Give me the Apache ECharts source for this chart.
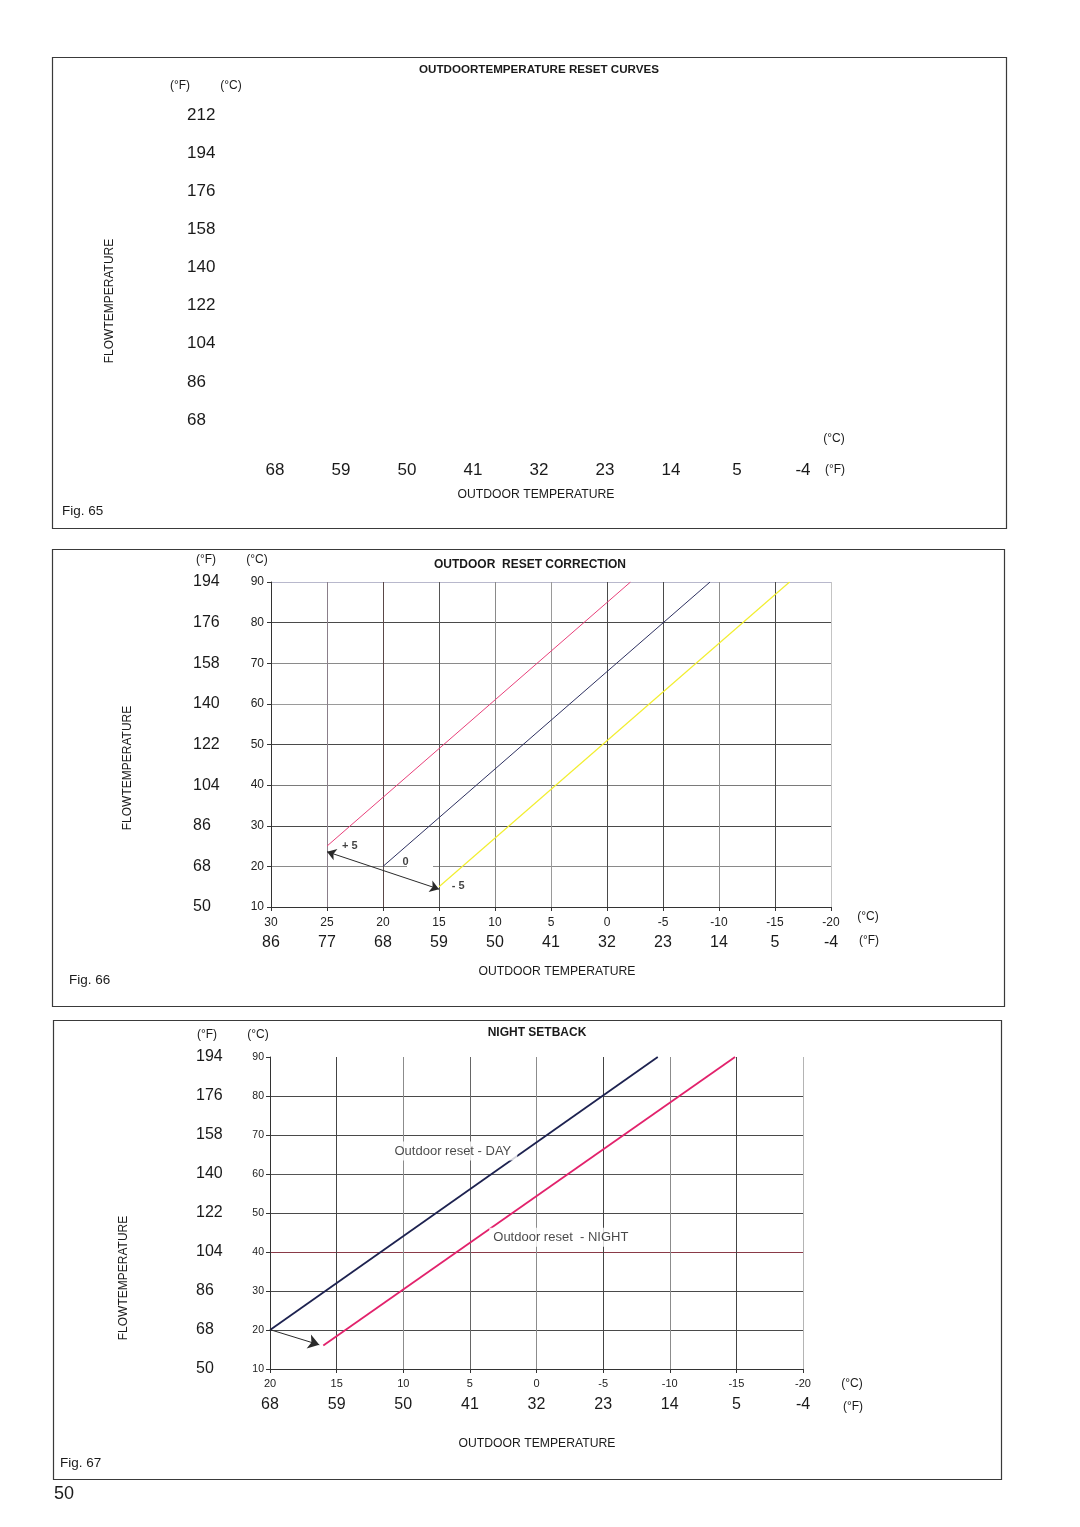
<!DOCTYPE html>
<html>
<head>
<meta charset="utf-8">
<script src="https://cdn.jsdelivr.net/npm/echarts@6/dist/echarts.min.js"></script>
<style>
html,body{margin:0;padding:0;background:#fff;}
#c{width:1080px;height:1527px;}
</style>
</head>
<body>
<div id="c"></div>
<script>
// ---------- Fig. 65 (empty chart, only scale labels) ----------
const fig65CelsiusX = [20, 15, 10, 5, 0, -5, -10, -15, -20];
const fig65FahrenheitX = [68, 59, 50, 41, 32, 23, 14, 5, -4];
const fig65CelsiusY = [20, 30, 40, 50, 60, 70, 80, 90, 100];
const fig65FahrenheitY = [68, 86, 104, 122, 140, 158, 176, 194, 212];

// ---------- Fig. 66 OUTDOOR RESET CORRECTION ----------
const fig66CelsiusX = [30, 25, 20, 15, 10, 5, 0, -5, -10, -15, -20];
const fig66FahrenheitX = [86, 77, 68, 59, 50, 41, 32, 23, 14, 5, -4];
const fig66CelsiusY = [10, 20, 30, 40, 50, 60, 70, 80, 90];
const fig66FahrenheitY = [50, 68, 86, 104, 122, 140, 158, 176, 194];
const fig66PlusFive = [[25, 25], [-2.1, 90]];
const fig66Zero = [[20, 20], [-9.2, 90]];
const fig66MinusFive = [[15, 15], [-16.3, 90]];
const fig66Arrow = [[25, 23.6], [15, 14.4]];
const fig66Notes = [[23.7, 25, '+ 5'], [18.3, 21.0, '0'], [13.9, 15.1, '- 5']];

// ---------- Fig. 67 NIGHT SETBACK ----------
const fig67CelsiusX = [20, 15, 10, 5, 0, -5, -10, -15, -20];
const fig67FahrenheitX = [68, 59, 50, 41, 32, 23, 14, 5, -4];
const fig67CelsiusY = [10, 20, 30, 40, 50, 60, 70, 80, 90];
const fig67FahrenheitY = [50, 68, 86, 104, 122, 140, 158, 176, 194];
const fig67Day = [[20, 20], [-9.1, 90]];
const fig67Night = [[16, 16], [-14.9, 90]];
const fig67Arrow = [[20, 20.1], [16.3, 16.2]];
const fig67Notes = [[6.2, 65.9, 'Outdoor reset - DAY'], [-1.9, 43.8, 'Outdoor reset  - NIGHT']];

const FONT = '"Liberation Sans", Arial, Helvetica, sans-serif';
const lookup = (cArr, fArr) => v => { const i = cArr.indexOf(v); return i < 0 ? '' : String(fArr[i]); };
const none = { show: false, onZero: false };
const noTick = { show: false };
const noSplit = { show: false };

function txt(x, y, text, size, opts) {
  opts = opts || {};
  return {
    type: 'text', x: x, y: y, rotation: opts.rotation || 0, z: 100,
    style: {
      text: text, fill: opts.color || '#1a1a1a',
      font: (opts.bold ? 'bold ' : '') + size + 'px ' + FONT,
      align: opts.align || 'center', textAlign: opts.align || 'center',
      verticalAlign: 'middle', textVerticalAlign: 'middle'
    }
  };
}
function box(x1, y1, x2, y2) {
  return { type: 'rect', z: 100, shape: { x: x1 + 0.5, y: y1 + 0.5, width: x2 - x1, height: y2 - y1 },
    style: { fill: 'none', stroke: '#3a3a3a', lineWidth: 1.2 } };
}
const axisLineOn = { show: true, onZero: false, lineStyle: { color: '#333', width: 1 } };

const chart = echarts.init(document.getElementById('c'), null, { renderer: 'canvas' });

const option = {
  animation: false,
  backgroundColor: '#ffffff',
  textStyle: { fontFamily: FONT },
  grid: [
    { left: 275, top: 115, width: 528, height: 305 },
    { left: 271, top: 582, width: 560, height: 325 },
    { left: 270, top: 1057, width: 533, height: 312 }
  ],
  xAxis: [
    // 0: fig 65
    { gridIndex: 0, type: 'value', min: -20, max: 20, interval: 5, inverse: true,
      axisLine: none, axisTick: noTick, splitLine: noSplit,
      axisLabel: { margin: 42, fontSize: 17, color: '#1a1a1a', formatter: lookup(fig65CelsiusX, fig65FahrenheitX) } },
    // 1: fig 66 celsius
    { gridIndex: 1, type: 'value', min: -20, max: 30, interval: 5, inverse: true,
      axisLine: axisLineOn,
      axisTick: { show: true, length: 4, lineStyle: { color: '#333' } },
      splitLine: { show: true, lineStyle: { width: 1, color: ['#c4c4c4', '#4a4a4a', '#8f8f8f', '#4a4a4a', '#4a4a4a', '#9a9a9a', '#8a8a8a', '#555', '#5a4848', '#8a7f8a', '#333'] } },
      axisLabel: { margin: 10, fontSize: 12, color: '#222', formatter: v => String(v) } },
    // 2: fig 66 fahrenheit
    { gridIndex: 1, type: 'value', min: -20, max: 30, interval: 5, inverse: true, position: 'bottom', offset: 21,
      axisLine: none, axisTick: noTick, splitLine: noSplit,
      axisLabel: { margin: 7, fontSize: 16, color: '#1a1a1a', formatter: lookup(fig66CelsiusX, fig66FahrenheitX) } },
    // 3: fig 67 celsius
    { gridIndex: 2, type: 'value', min: -20, max: 20, interval: 5, inverse: true,
      axisLine: axisLineOn,
      axisTick: { show: true, length: 4, lineStyle: { color: '#333' } },
      splitLine: { show: true, lineStyle: { width: 1, color: ['#b4b4b4', '#444', '#8c8c8c', '#444', '#8c8c8c', '#666', '#8c8c8c', '#444', '#333'] } },
      axisLabel: { margin: 9, fontSize: 11, color: '#222', formatter: v => String(v) } },
    // 4: fig 67 fahrenheit
    { gridIndex: 2, type: 'value', min: -20, max: 20, interval: 5, inverse: true, position: 'bottom', offset: 21,
      axisLine: none, axisTick: noTick, splitLine: noSplit,
      axisLabel: { margin: 7, fontSize: 16, color: '#1a1a1a', formatter: lookup(fig67CelsiusX, fig67FahrenheitX) } }
  ],
  yAxis: [
    // 0: fig 65
    { gridIndex: 0, type: 'value', min: 20, max: 100, interval: 10,
      axisLine: none, axisTick: noTick, splitLine: noSplit,
      axisLabel: { margin: 88, align: 'left', fontSize: 17, color: '#1a1a1a', formatter: lookup(fig65CelsiusY, fig65FahrenheitY) } },
    // 1: fig 66 celsius
    { gridIndex: 1, type: 'value', min: 10, max: 90, interval: 10,
      axisLine: axisLineOn,
      axisTick: { show: true, length: 4, lineStyle: { color: '#333' } },
      splitLine: { show: true, lineStyle: { width: 1, color: ['#333', '#8a8a8a', '#4a4a4a', '#7a7a7a', '#4a4a4a', '#9a9a9a', '#8a8a8a', '#4a4a4a', '#b8b8cc'] } },
      axisLabel: { margin: 7, fontSize: 12, color: '#222', formatter: v => String(v) } },
    // 2: fig 66 fahrenheit
    { gridIndex: 1, type: 'value', min: 10, max: 90, interval: 10, position: 'left',
      axisLine: none, axisTick: noTick, splitLine: noSplit,
      axisLabel: { margin: 78, align: 'left', fontSize: 16, color: '#1a1a1a', padding: [2, 0, 0, 0], formatter: lookup(fig66CelsiusY, fig66FahrenheitY) } },
    // 3: fig 67 celsius
    { gridIndex: 2, type: 'value', min: 10, max: 90, interval: 10,
      axisLine: axisLineOn,
      axisTick: { show: true, length: 4, lineStyle: { color: '#333' } },
      splitLine: { show: true, showMaxLine: false, lineStyle: { width: 1, color: ['#333', '#4a4a4a', '#4a4a4a', '#8a3a48', '#4a4a4a', '#555', '#4a4a4a', '#4a4a4a', '#ffffff'] } },
      axisLabel: { margin: 6, fontSize: 10.5, color: '#222', formatter: v => String(v) } },
    // 4: fig 67 fahrenheit
    { gridIndex: 2, type: 'value', min: 10, max: 90, interval: 10, position: 'left',
      axisLine: none, axisTick: noTick, splitLine: noSplit,
      axisLabel: { margin: 74, align: 'left', fontSize: 16, color: '#1a1a1a', padding: [7, 0, 0, 0], formatter: lookup(fig67CelsiusY, fig67FahrenheitY) } }
  ],
  series: [
    { type: 'line', xAxisIndex: 1, yAxisIndex: 1, data: fig66PlusFive, symbol: 'none', z: 3,
      lineStyle: { color: '#e8407a', width: 1 } },
    { type: 'line', xAxisIndex: 1, yAxisIndex: 1, data: fig66Zero, symbol: 'none', z: 3,
      lineStyle: { color: '#2d3060', width: 1 },
      markLine: { silent: true, symbol: ['arrow', 'arrow'], symbolSize: 9, label: { show: false },
        lineStyle: { color: '#2a2a2a', width: 1, type: 'solid' },
        data: [[{ coord: fig66Arrow[0] }, { coord: fig66Arrow[1] }]] } },
    { type: 'line', xAxisIndex: 1, yAxisIndex: 1, data: fig66MinusFive, symbol: 'none', z: 3,
      lineStyle: { color: '#f2ee30', width: 1.2 } },
    { type: 'scatter', xAxisIndex: 1, yAxisIndex: 1, data: fig66Notes, symbolSize: 1, z: 10, silent: true,
      itemStyle: { color: 'rgba(0,0,0,0)' },
      label: { show: true, position: 'right', distance: 0, formatter: p => p.value[2],
        fontSize: 11, fontWeight: 'bold', color: '#111' } },
    { type: 'line', xAxisIndex: 3, yAxisIndex: 3, data: fig67Day, symbol: 'none', z: 3,
      lineStyle: { color: '#1d2250', width: 1.8 } },
    { type: 'line', xAxisIndex: 3, yAxisIndex: 3, data: fig67Night, symbol: 'none', z: 3,
      lineStyle: { color: '#e2226c', width: 1.8 },
      markLine: { silent: true, symbol: ['none', 'arrow'], symbolSize: 11, label: { show: false },
        lineStyle: { color: '#2a2a2a', width: 1, type: 'solid' },
        data: [[{ coord: fig67Arrow[0] }, { coord: fig67Arrow[1] }]] } },
    { type: 'scatter', xAxisIndex: 3, yAxisIndex: 3, data: fig67Notes, symbolSize: 1, z: 10, silent: true,
      itemStyle: { color: 'rgba(0,0,0,0)' },
      label: { show: true, position: 'inside', formatter: p => p.value[2],
        fontSize: 13, color: '#1a1a1a', backgroundColor: '#ffffff', padding: [3, 6, 3, 4] } }
  ],
  graphic: [
    // frames
    box(52, 57, 1006, 528),
    box(52, 549, 1004, 1006),
    box(53, 1020, 1001, 1479),
    // fig 65 texts
    txt(539, 70, 'OUTDOORTEMPERATURE RESET CURVES', 11.6, { bold: true }),
    txt(180, 86, '(°F)', 12),
    txt(231, 86, '(°C)', 12),
    txt(110, 301, 'FLOWTEMPERATURE', 12, { rotation: Math.PI / 2 }),
    txt(834, 439, '(°C)', 12),
    txt(835, 470, '(°F)', 12),
    txt(536, 495, 'OUTDOOR TEMPERATURE', 12.2),
    txt(62, 511, 'Fig. 65', 13.5, { align: 'left' }),
    // fig 66 texts
    txt(530, 565, 'OUTDOOR  RESET CORRECTION', 12, { bold: true }),
    txt(206, 560, '(°F)', 12),
    txt(257, 560, '(°C)', 12),
    txt(128, 768, 'FLOWTEMPERATURE', 12, { rotation: Math.PI / 2 }),
    txt(868, 917, '(°C)', 12),
    txt(869, 941, '(°F)', 12),
    txt(557, 972, 'OUTDOOR TEMPERATURE', 12.2),
    txt(69, 980, 'Fig. 66', 13.5, { align: 'left' }),
    { type: 'rect', z: 50, shape: { x: 407, y: 864, width: 26, height: 4 }, style: { fill: '#ffffff' } },
    // fig 67 texts
    txt(537, 1033, 'NIGHT SETBACK', 12, { bold: true }),
    txt(207, 1035, '(°F)', 12),
    txt(258, 1035, '(°C)', 12),
    txt(124, 1278, 'FLOWTEMPERATURE', 12, { rotation: Math.PI / 2 }),
    txt(852, 1384, '(°C)', 12),
    txt(853, 1407, '(°F)', 12),
    txt(537, 1444, 'OUTDOOR TEMPERATURE', 12.2),
    txt(60, 1463, 'Fig. 67', 13.5, { align: 'left' }),
    // page number
    txt(54, 1494, '50', 18, { align: 'left' })
  ]
};
chart.setOption(option);
</script>
</body>
</html>
